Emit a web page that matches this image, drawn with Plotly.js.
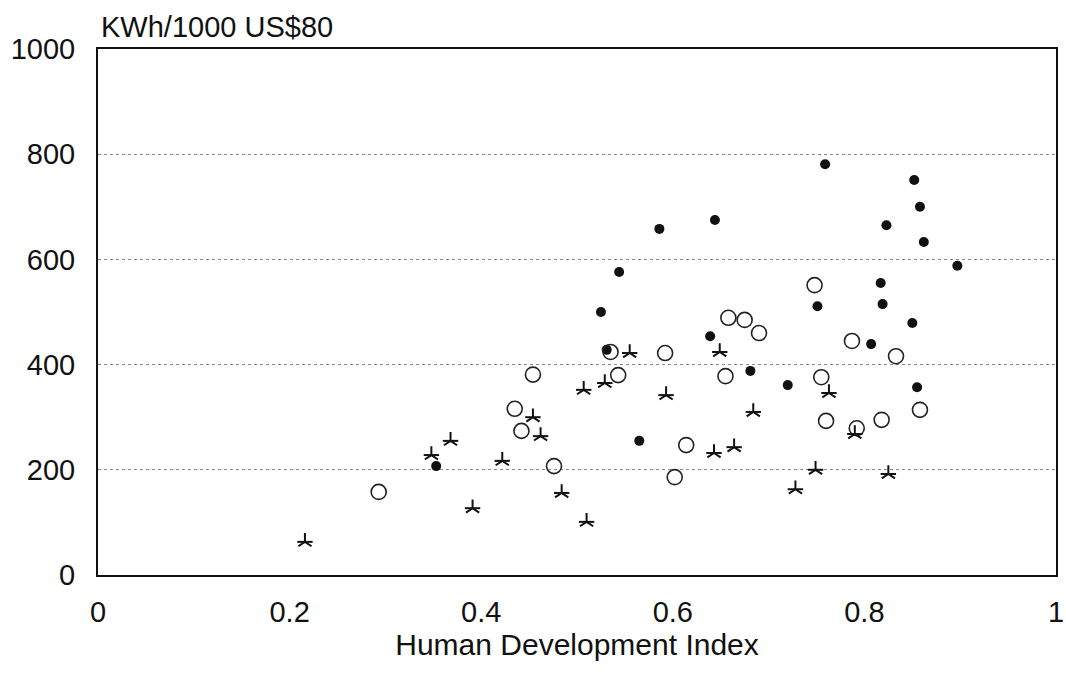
<!DOCTYPE html>
<html>
<head>
<meta charset="utf-8">
<script src="https://cdn.plot.ly/plotly-3.0.1.min.js"></script>
<style>
  html, body { margin: 0; padding: 0; background: #ffffff; }
  #chart { width: 1066px; height: 678px; }
</style>
</head>
<body>
<div id="chart"></div>
<script>
// Electricity intensity (KWh per 1000 US$80) against the Human Development Index
// Group 1: filled dots
const hdiDot = [0.353, 0.525, 0.531, 0.544, 0.586, 0.565, 0.644, 0.639, 0.681, 0.720, 0.759,
                0.852, 0.858, 0.823, 0.862, 0.897, 0.817, 0.751, 0.819, 0.850, 0.807, 0.855];
const kwhDot = [207, 500, 428, 576, 658, 255, 675, 454, 388, 361, 781,
                751, 700, 665, 633, 588, 555, 511, 515, 479, 439, 357];

// Group 2: open circles
const hdiOpen = [0.293, 0.435, 0.442, 0.454, 0.476, 0.535, 0.543, 0.592, 0.602, 0.614, 0.655,
                 0.658, 0.675, 0.690, 0.748, 0.755, 0.760, 0.787, 0.792, 0.818, 0.833, 0.858];
const kwhOpen = [158, 316, 274, 381, 207, 424, 380, 422, 186, 247, 378,
                 489, 485, 460, 551, 376, 293, 445, 279, 295, 416, 314];

// Group 3: asterisks
const hdiStar = [0.216, 0.348, 0.368, 0.391, 0.422, 0.454, 0.462, 0.484, 0.507, 0.510, 0.529,
                 0.555, 0.593, 0.643, 0.649, 0.664, 0.684, 0.728, 0.749, 0.763, 0.790, 0.825];
const kwhStar = [63, 228, 255, 127, 217, 300, 264, 156, 352, 101, 365,
                 422, 342, 232, 424, 243, 310, 163, 200, 346, 268, 192];

const xTicks = [0, 0.2, 0.4, 0.6, 0.8, 1];
const xTickText = ['0', '0.2', '0.4', '0.6', '0.8', '1'];
const yTicks = [0, 200, 400, 600, 800, 1000];

const FONT = 'Liberation Sans, Arial, sans-serif';
const INK = '#111111';

// The asterisk is built from a three-armed "y-up" stroke plus a horizontal bar
const traces = [
  {
    x: hdiDot, y: kwhDot, type: 'scatter', mode: 'markers',
    marker: { symbol: 'circle', size: 10, color: INK, line: { width: 0 } }
  },
  {
    x: hdiOpen, y: kwhOpen, type: 'scatter', mode: 'markers',
    marker: { symbol: 'circle-open', size: 15, color: '#222222', line: { width: 1.6, color: '#222222' } }
  },
  {
    x: hdiStar, y: kwhStar, type: 'scatter', mode: 'markers',
    marker: { symbol: 'y-up-open', size: 11, color: INK, line: { width: 2, color: INK } }
  },
  {
    x: hdiStar, y: kwhStar, type: 'scatter', mode: 'markers',
    marker: { symbol: 'line-ew-open', size: 11, color: INK, line: { width: 2, color: INK } }
  }
];

const layout = {
  width: 1066,
  height: 678,
  paper_bgcolor: '#ffffff',
  plot_bgcolor: '#ffffff',
  showlegend: false,
  margin: { l: 98, r: 10, t: 49, b: 103 },
  font: { family: FONT, color: INK, size: 29 },
  xaxis: {
    range: [0, 1],
    tickvals: xTicks,
    ticktext: xTickText,
    ticks: '',
    showgrid: false,
    zeroline: false,
    showline: true,
    mirror: true,
    linecolor: INK,
    linewidth: 2,
    ticklabelstandoff: 10,
    ticklabeloverflow: 'allow',
    tickfont: { family: FONT, size: 29, color: INK },
    title: { text: 'Human Development Index', font: { family: FONT, size: 30, color: INK }, standoff: 0 }
  },
  yaxis: {
    range: [0, 1000],
    tickvals: yTicks,
    ticks: '',
    showgrid: true,
    gridcolor: '#888888',
    gridwidth: 1,
    griddash: 'dot',
    zeroline: false,
    showline: true,
    mirror: true,
    linecolor: INK,
    linewidth: 2,
    ticklabelstandoff: 15,
    ticklabeloverflow: 'allow',
    tickfont: { family: FONT, size: 29, color: INK }
  },
  annotations: [
    {
      text: 'KWh/1000 US$80',
      xref: 'paper', yref: 'paper',
      x: 0.001, y: 1.0,
      xanchor: 'left', yanchor: 'bottom',
      yshift: 4,
      showarrow: false,
      font: { family: FONT, size: 29, color: INK }
    }
  ]
};

Plotly.newPlot('chart', traces, layout, { displayModeBar: false, staticPlot: true });
</script>
</body>
</html>
